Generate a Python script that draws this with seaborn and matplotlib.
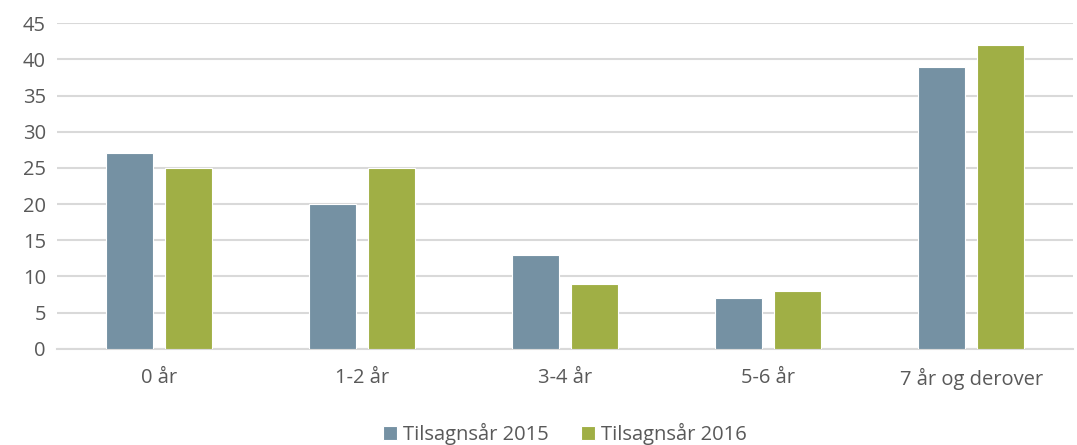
import pandas as pd
import matplotlib.pyplot as plt
import seaborn as sns

categories = ["0 år", "1-2 år", "3-4 år", "5-6 år", "7 år og derover"]
series_names = ["Tilsagnsår 2015", "Tilsagnsår 2016"]
values_2015 = [27, 20, 13, 7, 39]
values_2016 = [25, 25, 9, 8, 42]
colors = ["#7591A3", "#A0AF45"]

df = pd.DataFrame({
    "kategori": categories * 2,
    "serie": [series_names[0]] * len(categories) + [series_names[1]] * len(categories),
    "verdi": values_2015 + values_2016,
})

sns.set_style("white")
plt.rcParams["font.family"] = ["Open Sans", "DejaVu Sans"]
text_col = "#595959"

fig = plt.figure(figsize=(10.77, 4.45), dpi=100)
ax = fig.add_axes([0.053, 0.216, 0.943, 0.732])

sns.barplot(
    data=df, x="kategori", y="verdi", hue="serie",
    palette=colors, saturation=1, width=0.58, gap=0.2,
    edgecolor="white", linewidth=0.8, ax=ax, zorder=3,
)

ax.set_ylim(0, 45)
ax.set_yticks(range(0, 46, 5))
ax.set_xlim(-0.5, len(categories) - 0.5)
ax.yaxis.grid(True, color="#D9D9D9", linewidth=1.5, zorder=0)
ax.set_axisbelow(True)
for s in ["top", "right", "left"]:
    ax.spines[s].set_visible(False)
ax.spines["bottom"].set_color("#D9D9D9")
ax.spines["bottom"].set_linewidth(1.5)
ax.tick_params(axis="both", length=0, labelsize=14.5, colors=text_col)
ax.tick_params(axis="y", pad=8)
ax.tick_params(axis="x", pad=14)
ax.set_xlabel("")
ax.set_ylabel("")

ax.legend(
    loc="center", bbox_to_anchor=(0.5, -0.26), ncol=2, frameon=False,
    fontsize=14.5, handlelength=0.7, handleheight=0.7, handletextpad=0.3,
    columnspacing=1.6, labelcolor=text_col,
)

fig.savefig("out.png", dpi=100)
